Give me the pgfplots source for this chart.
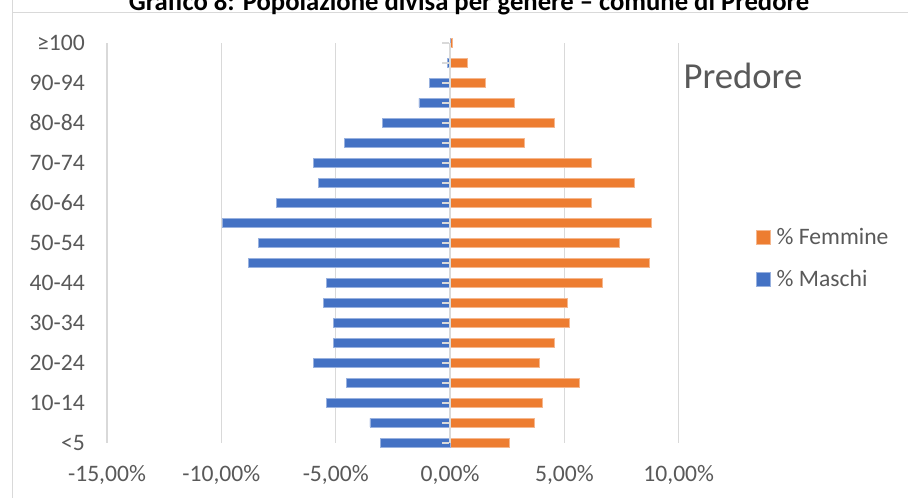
\documentclass[border=0pt]{standalone}
\usepackage{pgfplots}
\pgfplotsset{compat=1.18}
\usepackage{fontspec}
\setmainfont{Carlito}
\definecolor{txt}{HTML}{595959}
\definecolor{grd}{HTML}{D9D9D9}
\definecolor{blu}{HTML}{4472C4}
\definecolor{org}{HTML}{ED7D31}
\begin{document}
\begin{tikzpicture}
\path[use as bounding box] (0pt,0pt) rectangle (681pt,373.5pt);
\begin{scope}
\clip (0pt,0pt) rectangle (681pt,373.5pt);
\draw[grd, line width=1pt] (9.2pt,390pt) -- (9.2pt,-7.5pt);
\draw[grd, line width=1pt] (9.2pt,364pt) -- (697.5pt,364pt);
\node[anchor=base, inner sep=0pt, font=\bfseries\fontsize{20}{22}\selectfont, text=black] at (351.75pt,365.25pt) {Grafico 8: Popolazione divisa per genere – comune di Predore};
\begin{axis}[
  at={(80.25pt,41.5pt)}, anchor=south west,
  scale only axis, width=428.8pt, height=300pt,
  xmin=-15, xmax=10, ymin=0, ymax=20,
  xbar, bar width=6.3pt, bar shift=0pt,
  axis line style={draw=none},
  major tick length=0pt,
  xtick={-15,-10,-5,0,5,10},
  xticklabels={{-15,00\%},{-10,00\%},{-5,00\%},{0,00\%},{5,00\%},{10,00\%}},
  ytick={0,...,20},
  yticklabels={<5,,10-14,,20-24,,30-34,,40-44,,50-54,,60-64,,70-74,,80-84,,90-94,,≥100},
  xmajorgrids, grid style={grd, line width=1pt},
  tick label style={font=\fontsize{17.7}{20}\selectfont, text=txt, inner sep=0pt},
  xticklabel style={anchor=base, yshift=-29.1pt},
  yticklabel style={anchor=base east, xshift=-16.5pt, yshift=-5.8pt},
  legend style={at={(rel axis cs:1.128,0.4605)}, anchor=west, draw=none, fill=none,
    font=\fontsize{17.7}{20}\selectfont, text=txt, row sep=18pt, column sep=4.5pt,
    nodes={inner sep=0pt}},
  legend cell align=left,
  legend image code/.code={\fill[#1] (0pt,-5.2pt) rectangle (10.4pt,5.2pt);},
  clip=false,
]
\addplot[fill=org, draw=org!55!white, line width=0.5pt] coordinates {
(2.59,0) (3.69,1) (4.04,2) (5.64,3) (3.92,4) (4.56,5) (5.20,6) (5.12,7) (6.65,8) (8.70,9) (7.40,10)
(8.80,11) (6.19,12) (8.04,13) (6.19,14) (3.26,15) (4.56,16) (2.83,17) (1.53,18) (0.74,19) (0.10,20)};
\addlegendentry{\% Femmine}
\addplot[fill=blu, draw=blu!55!white, line width=0.5pt] coordinates {
(-3.06,0) (-3.50,1) (-5.42,2) (-4.53,3) (-5.99,4) (-5.09,5) (-5.09,6) (-5.54,7) (-5.42,8) (-8.82,9) (-8.37,10)
(-9.94,11) (-7.58,12) (-5.76,13) (-5.99,14) (-4.63,15) (-2.95,16) (-1.36,17) (-0.91,18) (-0.13,19) (0,20)};
\addlegendentry{\% Maschi}
\draw[grd, line width=1.3pt] (axis cs:0,0) -- (axis cs:0,20);
\pgfplotsinvokeforeach{0,...,20}{\draw[grd, line width=1.4pt] (axis cs:-0.33,#1) -- (axis cs:-0.06,#1);}
\end{axis}
\node[anchor=base west, inner sep=0pt, font=\fontsize{27.5}{30}\selectfont, text=txt] at (512.5pt,306.75pt) {Predore};
\end{scope}
\end{tikzpicture}
\end{document}
